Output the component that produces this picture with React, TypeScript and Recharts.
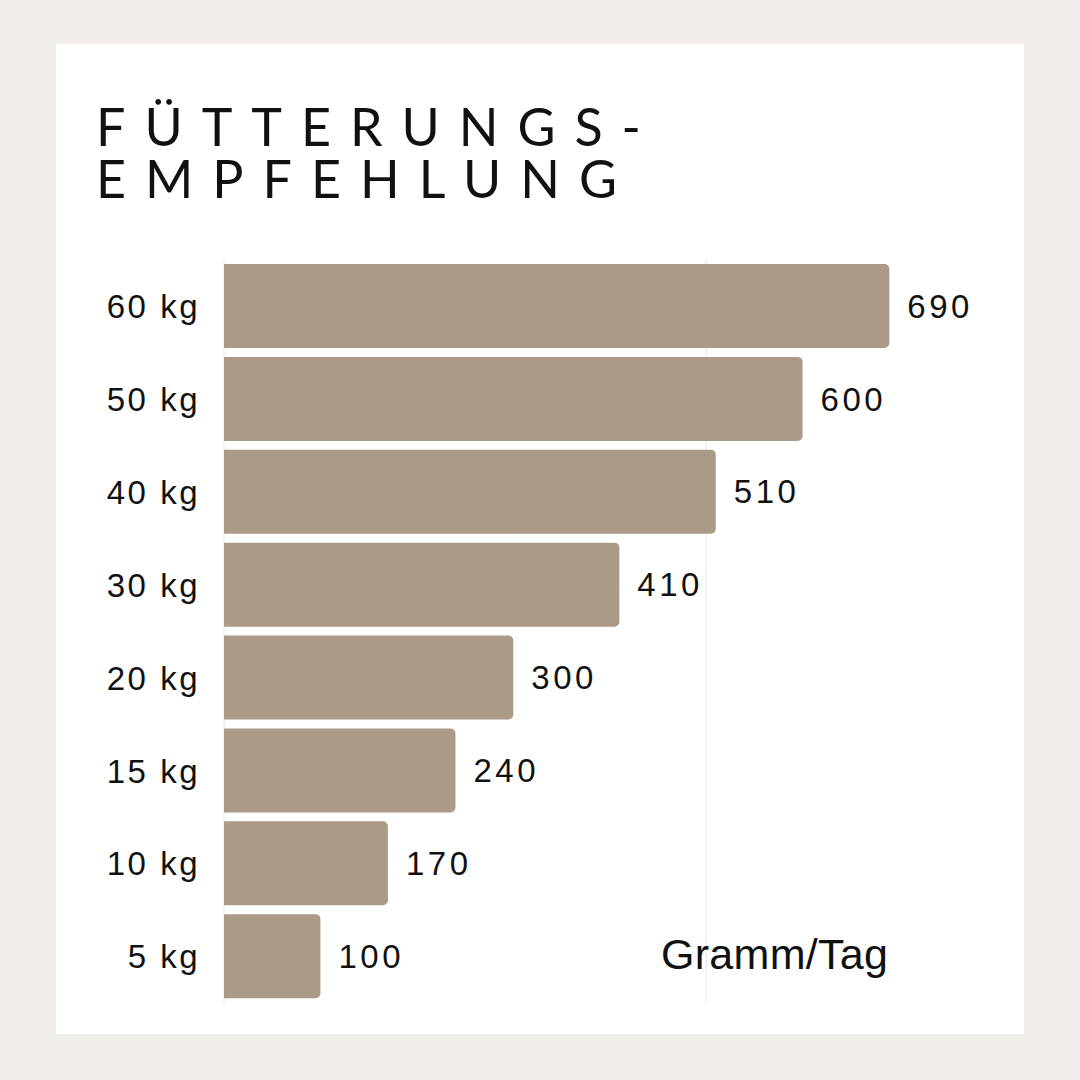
import React from "react";
import { BarChart, Bar, XAxis, YAxis, CartesianGrid, LabelList } from "recharts";

const weights = ["60 kg", "50 kg", "40 kg", "30 kg", "20 kg", "15 kg", "10 kg", "5 kg"];
const grams = [690, 600, 510, 410, 300, 240, 170, 100];
const gridTicks = [0, 500];
const xDomain = [0, 700];
const titleLines = ["FÜTTERUNGS-", "EMPFEHLUNG"];
const unitLabel = "Gramm/Tag";

const data = weights.map((w, i) => ({ weight: w, grams: grams[i] }));

const BAR_COLOR = "#ab9a88";
const TEXT = "#111111";
const SANS = "'Liberation Sans', Arial, Helvetica, sans-serif";

function gridX(props: any): number[] {
  const s = props && props.xAxis ? props.xAxis.scale : undefined;
  if (typeof s === "function") return gridTicks.map((t) => s(t));
  if (s && typeof s.map === "function") return gridTicks.map((t) => s.map(t));
  const off = (props && props.offset) || {};
  return gridTicks.map(
    (t) => off.left + ((t - xDomain[0]) / (xDomain[1] - xDomain[0])) * off.width
  );
}

export default function App() {
  return (
    <div
      style={{
        position: "absolute",
        left: 0,
        top: 0,
        width: 1080,
        height: 1080,
        background: "#f1eeea",
        overflow: "hidden",
      }}
    >
      <div
        style={{
          position: "absolute",
          left: 56,
          top: 44,
          width: 968,
          height: 990,
          background: "#ffffff",
        }}
      />
      <div
        style={{
          position: "absolute",
          left: 96,
          top: 100,
          fontFamily: "Lato, 'Noto Sans', sans-serif",
          fontWeight: 400,
          fontSize: 52,
          lineHeight: "52px",
          letterSpacing: 19,
          color: TEXT,
          whiteSpace: "nowrap",
        }}
      >
        {titleLines.map((t) => (
          <div key={t}>{t}</div>
        ))}
      </div>
      <div style={{ position: "absolute", left: 56, top: 250 }}>
        <BarChart
          width={968}
          height={760}
          data={data}
          layout="vertical"
          margin={{ top: 10, right: 125, bottom: 7, left: 0 }}
          barSize={84}
        >
          <CartesianGrid
            horizontal={false}
            vertical={true}
            stroke="#e6e6e6"
            strokeWidth={1}
            verticalCoordinatesGenerator={gridX}
          />
          <XAxis type="number" domain={xDomain} ticks={gridTicks} hide />
          <YAxis
            type="category"
            dataKey="weight"
            width={168}
            axisLine={false}
            tickLine={false}
            tickMargin={18}
            tick={{ fill: TEXT, fontSize: 33, fontFamily: SANS, letterSpacing: 2.5 }}
          />
          <Bar
            dataKey="grams"
            fill={BAR_COLOR}
            radius={[0, 5, 5, 0]}
            isAnimationActive={false}
          >
            <LabelList
              dataKey="grams"
              position="right"
              offset={18}
              style={{ fill: TEXT, fontSize: 33, fontFamily: SANS, letterSpacing: 3.5 }}
            />
          </Bar>
        </BarChart>
      </div>
      <div
        style={{
          position: "absolute",
          left: 661,
          top: 930,
          fontFamily: SANS,
          fontSize: 43,
          letterSpacing: 0.3,
          color: TEXT,
          lineHeight: "48px",
          whiteSpace: "nowrap",
        }}
      >
        {unitLabel}
      </div>
    </div>
  );
}
